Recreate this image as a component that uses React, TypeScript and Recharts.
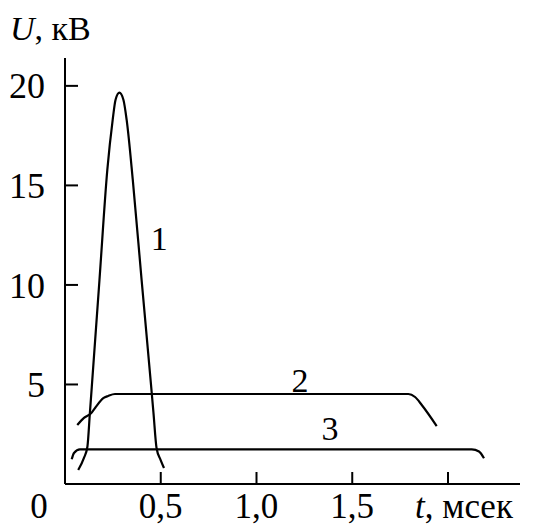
import React from 'react';
import { LineChart, Line, XAxis, YAxis, ReferenceDot } from 'recharts';

// curve 1: short high pulse
const curve1 = [
  { t: 0.069, u: 0.7 },
  { t: 0.099, u: 1.31 },
  { t: 0.117, u: 1.87 },
  { t: 0.13, u: 3.57 },
  { t: 0.14, u: 4.89 },
  { t: 0.18, u: 10.25 },
  { t: 0.221, u: 15.78 },
  { t: 0.249, u: 18.29 },
  { t: 0.264, u: 19.3 },
  { t: 0.284, u: 19.66 },
  { t: 0.305, u: 19.3 },
  { t: 0.322, u: 18.29 },
  { t: 0.354, u: 15.28 },
  { t: 0.4, u: 10.25 },
  { t: 0.45, u: 4.89 },
  { t: 0.462, u: 3.57 },
  { t: 0.478, u: 1.81 },
  { t: 0.499, u: 1.21 },
  { t: 0.517, u: 0.8 },
];

// curve 2: ~4.5 kV plateau
const curve2 = [
  { t: 0.064, u: 2.96 },
  { t: 0.099, u: 3.32 },
  { t: 0.136, u: 3.55 },
  { t: 0.157, u: 3.82 },
  { t: 0.2, u: 4.31 },
  { t: 0.225, u: 4.42 },
  { t: 0.261, u: 4.52 },
  { t: 1.793, u: 4.52 },
  { t: 1.828, u: 4.37 },
  { t: 1.863, u: 3.97 },
  { t: 1.941, u: 2.91 },
];

// curve 3: ~1.7 kV plateau
const curve3 = [
  { t: 0.035, u: 1.24 },
  { t: 0.047, u: 1.56 },
  { t: 0.078, u: 1.74 },
  { t: 2.124, u: 1.74 },
  { t: 2.162, u: 1.63 },
  { t: 2.188, u: 1.29 },
];

const curveLabels = [
  { name: '1', t: 0.492, u: 12.34 },
  { name: '2', t: 1.227, u: 5.23 },
  { name: '3', t: 1.384, u: 2.8 },
];

const xTicks = [0.5, 1, 1.5, 2];
const xTickLabels: Record<number, string> = { 0.5: '0,5', 1: '1,0', 1.5: '1,5', 2: '' };
const yTicks = [5, 10, 15, 20];

const FONT = "'Liberation Serif', 'Times New Roman', serif";

const XTick = (props: any) => {
  const { x, y, payload } = props;
  return (
    <g>
      <line x1={x} x2={x} y1={y} y2={y - 12} stroke="#000" strokeWidth={2} />
      <text x={x} y={y + 34} textAnchor="middle" fontSize={35} fontFamily={FONT} fill="#000">
        {xTickLabels[payload.value]}
      </text>
    </g>
  );
};

const YTick = (props: any) => {
  const { x, y, payload } = props;
  return (
    <g>
      <line x1={x} x2={x + 13} y1={y} y2={y} stroke="#000" strokeWidth={2} />
      <text x={x - 20} y={y} dy="0.35em" textAnchor="end" fontSize={36} fontFamily={FONT} fill="#000">
        {payload.value}
      </text>
    </g>
  );
};

const App: React.FC = () => {
  return (
    <div style={{ position: 'absolute', left: 0, top: 0, background: '#fff' }}>
      <LineChart width={539} height={526} margin={{ top: 58, right: 19, bottom: 0, left: 0 }}>
        <XAxis
          type="number"
          dataKey="t"
          domain={[0, 2.376]}
          ticks={xTicks}
          tick={<XTick />}
          tickLine={false}
          tickSize={0}
          tickMargin={0}
          height={42}
          axisLine={{ stroke: '#000', strokeWidth: 2 }}
          label={{
            content: () => (
              <g fontFamily={FONT} fontSize={35} fill="#000">
                <text x={39} y={518} textAnchor="middle">0</text>
                <text x={415} y={518}>
                  <tspan fontStyle="italic">t</tspan>, мсек
                </text>
              </g>
            ),
          }}
        />
        <YAxis
          type="number"
          domain={[0, 21.4]}
          ticks={yTicks}
          tick={<YTick />}
          tickLine={false}
          tickSize={0}
          tickMargin={0}
          width={65}
          axisLine={{ stroke: '#000', strokeWidth: 2 }}
          label={{
            content: () => (
              <text x={10} y={40} fontFamily={FONT} fontSize={34} fill="#000">
                <tspan fontStyle="italic">U</tspan>, кВ
              </text>
            ),
          }}
        />
        <Line data={curve1} dataKey="u" type="monotone" stroke="#000" strokeWidth={2.2} dot={false} isAnimationActive={false} />
        <Line data={curve2} dataKey="u" type="monotone" stroke="#000" strokeWidth={2.2} dot={false} isAnimationActive={false} />
        <Line data={curve3} dataKey="u" type="monotone" stroke="#000" strokeWidth={2.2} dot={false} isAnimationActive={false} />
        {curveLabels.map((c) => (
          <ReferenceDot
            key={c.name}
            x={c.t}
            y={c.u}
            r={0}
            stroke="none"
            fill="none"
            label={{ value: c.name, position: 'center', fontSize: 34, fontFamily: FONT, fill: '#000' }}
          />
        ))}
      </LineChart>
    </div>
  );
};

export default App;
